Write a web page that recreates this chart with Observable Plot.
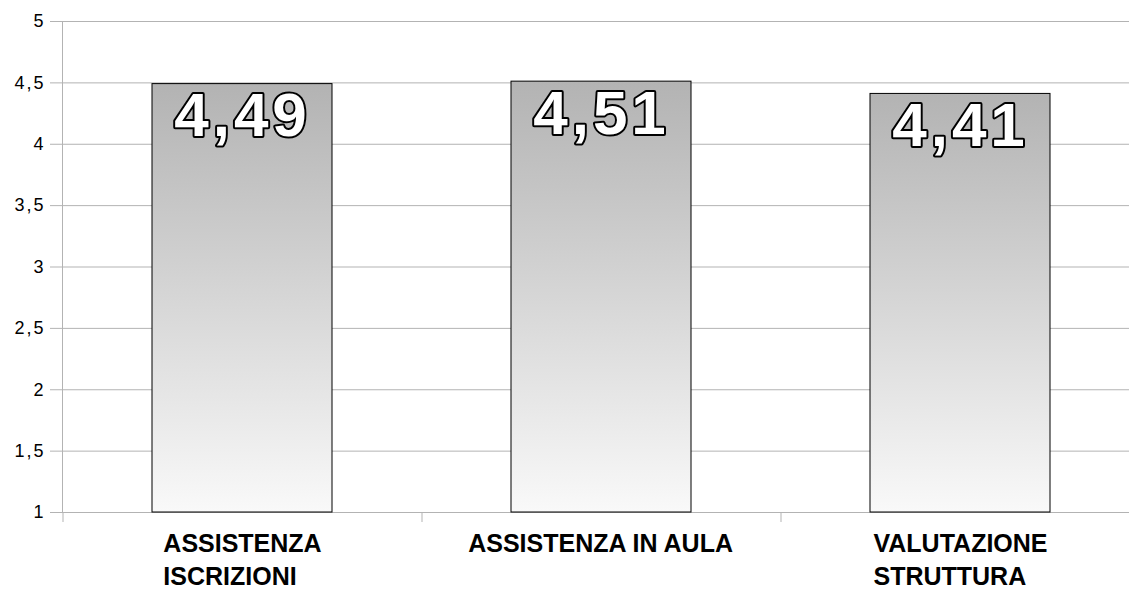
<!DOCTYPE html>
<html>
<head>
<meta charset="utf-8">
<script src="https://cdn.jsdelivr.net/npm/d3@7"></script>
<script src="https://cdn.jsdelivr.net/npm/@observablehq/plot@0.6"></script>
<style>
  html, body { margin: 0; padding: 0; background: #fff; overflow: hidden; }
  svg { display: block; }
  .ytick-labels text { letter-spacing: 2px; }
  .value-labels text { letter-spacing: 4px; }
</style>
</head>
<body>
<div id="chart"></div>
<script>
const categories = ["ASSISTENZA\nISCRIZIONI", "ASSISTENZA IN AULA", "VALUTAZIONE\nSTRUTTURA"];
const values = [4.49, 4.51, 4.41];
const yTicks = [1, 1.5, 2, 2.5, 3, 3.5, 4, 4.5, 5];

const data = categories.map((c, i) => ({category: c, value: values[i]}));
const fmt = d => String(d).replace(".", ",");

const W = 1129, H = 590;
const mLeft = 62, mTop = 21, mBottom = 78;
const xRange = [mLeft, 1139];
const step = (xRange[1] - xRange[0]) / 3;
const FONT = "Liberation Sans, Arial, sans-serif";

const ctx = document.createElement("canvas").getContext("2d");
ctx.font = "bold 25px 'Liberation Sans'";
const blockWidth = c => Math.max(...c.split("\n").map(l => ctx.measureText(l).width));

const gradient = () => {
  const defs = d3.create("svg:defs");
  const g = defs.append("linearGradient").attr("id", "barGrad")
    .attr("x1", 0).attr("y1", 0).attr("x2", 0).attr("y2", 1);
  g.append("stop").attr("offset", "0%").attr("stop-color", "#b3b3b3");
  g.append("stop").attr("offset", "100%").attr("stop-color", "#f9f9f9");
  return defs.node();
};

const chart = Plot.plot({
  width: W,
  height: H,
  marginLeft: mLeft,
  marginTop: mTop,
  marginBottom: mBottom,
  marginRight: 0,
  style: {fontFamily: FONT, background: "#fff", overflow: "hidden"},
  x: {domain: categories, range: xRange, paddingInner: 0.5, paddingOuter: 0.25, axis: null},
  y: {domain: [1, 5], axis: null},
  marks: [
    gradient,
    Plot.ruleY(yTicks, {y: d => d, stroke: "#b3b3b3", strokeWidth: 1}),
    Plot.frame({anchor: "left", stroke: "#b3b3b3", strokeWidth: 1}),
    Plot.axisY({ticks: yTicks, tickFormat: () => "", tickSize: 12, stroke: "#b3b3b3", label: null}),
    Plot.axisX({ticks: categories, tickFormat: () => "", tickSize: 10, dx: -step / 2, stroke: "#b3b3b3", label: null}),
    Plot.text(yTicks, {
      y: d => d, text: fmt, frameAnchor: "left", textAnchor: "end", dx: -17,
      fontSize: 18, fill: "#000", fontFamily: FONT, className: "ytick-labels"
    }),
    Plot.barY(data, {x: "category", y1: 1, y2: "value", fill: "url(#barGrad)", stroke: "#000", strokeWidth: 1}),
    Plot.text(data, {
      x: "category", y: "value", text: d => fmt(d.value),
      lineAnchor: "top", dy: 8, dx: 0,
      fontSize: 62, fontWeight: "bold", fontFamily: FONT, className: "value-labels",
      fill: "#fff", stroke: "#000", strokeWidth: 4, paintOrder: "stroke", strokeLinejoin: "round"
    }),
    ...categories.map(c => Plot.text([c], {
      x: d => d, text: d => d, frameAnchor: "bottom",
      lineAnchor: "top", dy: 16, lineHeight: 1.32,
      textAnchor: "start", dx: -blockWidth(c) / 2,
      fontSize: 25, fontWeight: "bold", fill: "#000", fontFamily: FONT
    }))
  ]
});

document.getElementById("chart").appendChild(chart);
</script>
</body>
</html>
